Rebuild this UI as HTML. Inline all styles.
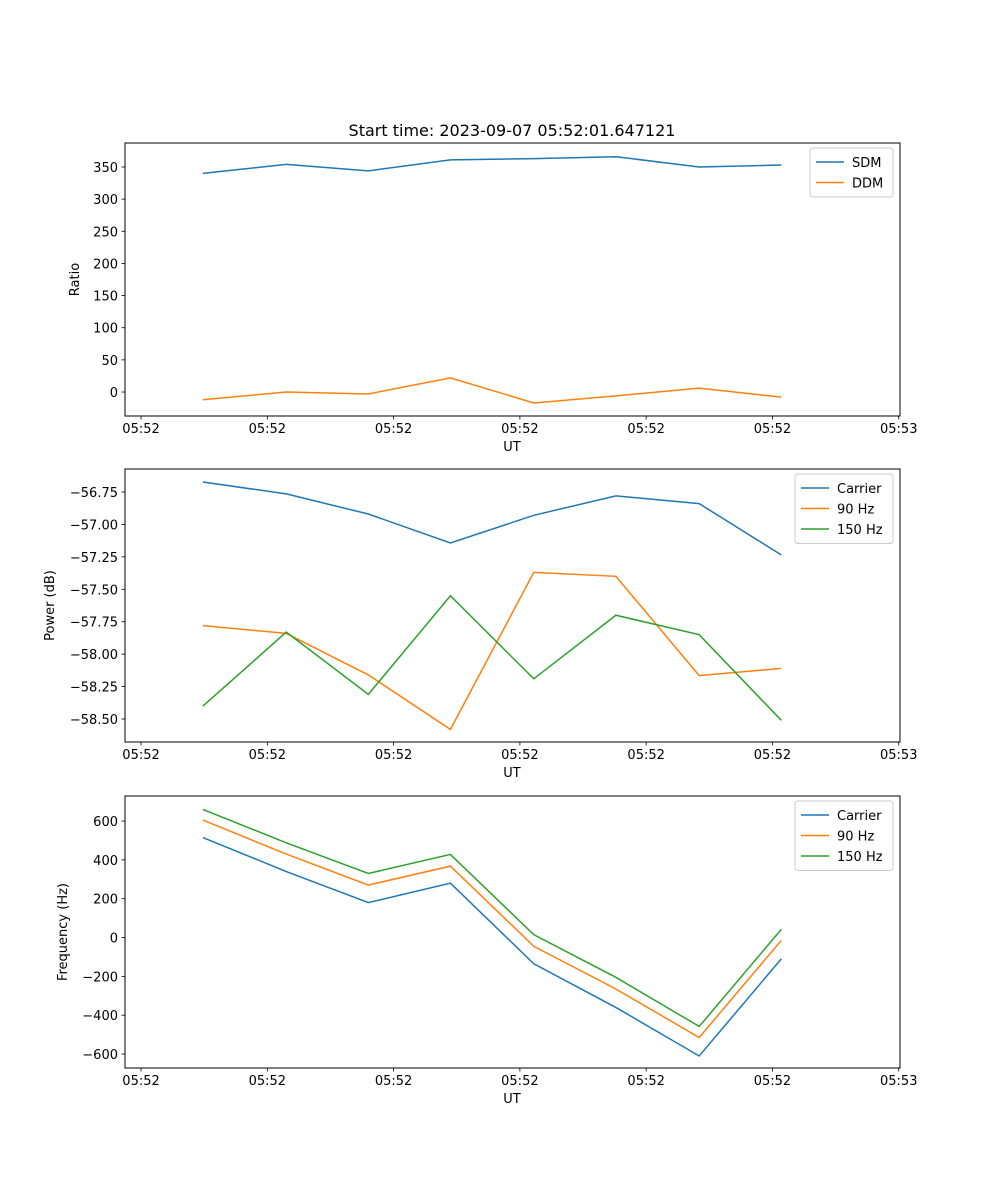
<!DOCTYPE html>
<html><head><meta charset="utf-8"><style>
body{margin:0;background:#fff}
svg{display:block;font-family:"DejaVu Sans","Liberation Sans",sans-serif}
</style></head><body>
<svg id="fig" width="1000" height="1200" viewBox="0 0 1000 1200" xmlns="http://www.w3.org/2000/svg">
<rect width="1000" height="1200" fill="#fff"/>
<text x="512" y="136" font-size="16" text-anchor="middle">Start time: 2023-09-07 05:52:01.647121</text>
</svg>
<script>
const times = [4.9, 11.5, 18.0, 24.5, 31.1, 37.6, 44.2, 50.7];
const xTicks = [0, 10, 20, 30, 40, 50, 60];
const xTickLabels = ["05:52","05:52","05:52","05:52","05:52","05:52","05:53"];
const sdm = [340, 354, 344, 361, 363, 366, 350, 353];
const ddm = [-12, 0, -3, 22, -17, -6, 6, -8];
const powCarrier = [-56.673, -56.765, -56.92, -57.143, -56.93, -56.78, -56.84, -57.235];
const pow90 = [-57.78, -57.84, -58.16, -58.58, -57.37, -57.40, -58.165, -58.11];
const pow150 = [-58.40, -57.83, -58.31, -57.55, -58.19, -57.70, -57.85, -58.51];
const freqCarrier = [515, 340, 180, 280, -135, -360, -610, -110];
const freq90 = [605, 430, 270, 368, -45, -265, -515, -15];
const freq150 = [660, 488, 330, 428, 15, -205, -458, 42];
const ticks1 = [0,50,100,150,200,250,300,350];
const ticks2 = [-58.5,-58.25,-58,-57.75,-57.5,-57.25,-57,-56.75];
const ticks3 = [-600,-400,-200,0,200,400,600];

const NS="http://www.w3.org/2000/svg";
const svg=document.getElementById('fig');
function mk(tag,attrs,parent){const e=document.createElementNS(NS,tag);for(const k in attrs)e.setAttribute(k,attrs[k]);(parent||svg).appendChild(e);return e;}
const C=["#1f77b4","#ff7f0e","#2ca02c"];
const L=125,R=900,xmin=-1.27,xmax=60.1;
const FS=13;
const xs=v=>L+(v-xmin)/(xmax-xmin)*(R-L);

function panel(name,top,bot,ymin,ymax,yt,fmt,ylabel,ylabX,series,names,legend){
  const g=mk('g',{});
  
  
  const ys=v=>bot-(v-ymin)/(ymax-ymin)*(bot-top);
  xTicks.forEach((t,i)=>{
    const x=xs(t);
    mk('line',{x1:x,x2:x,y1:bot,y2:bot+3.5,stroke:'#000','stroke-width':0.8},g);
    const tx=mk('text',{x:x,y:bot+17,'font-size':FS,'text-anchor':'middle'},g);
    
    
    tx.textContent=xTickLabels[i];
  });
  yt.forEach(t=>{
    const y=ys(t);
    mk('line',{x1:L-3.5,x2:L,y1:y,y2:y,stroke:'#000','stroke-width':0.8},g);
    const tx=mk('text',{x:L-7,y:y+5,'font-size':FS,'text-anchor':'end'},g);
    
    
    tx.textContent=fmt(t);
  });
  series.forEach((s,i)=>{
    const p=mk('polyline',{points:s.map((v,j)=>xs(times[j])+','+ys(v)).join(' '),fill:'none',stroke:C[i],'stroke-width':1.5},g);
    
    
  });
  mk('rect',{x:L,y:top,width:R-L,height:bot-top,fill:'none',stroke:'#000','stroke-width':1,'shape-rendering':'crispEdges'},g);
  const xl=mk('text',{x:512,y:bot+35,'font-size':FS,'text-anchor':'middle'},g);
  
  
  xl.textContent='UT';
  const cy=(top+bot)/2;
  const yl=mk('text',{x:ylabX,y:cy,'font-size':FS,'text-anchor':'middle',transform:`rotate(-90 ${ylabX} ${cy})`},g);
  
  
  yl.textContent=ylabel;
  const lg=mk('g',{},g);
  
  
  mk('rect',{x:legend.x,y:top+5,width:R-7-legend.x,height:names.length*20.5+8,fill:'#fff',stroke:'#ccc',rx:3},lg);
  names.forEach((n,i)=>{
    const y=top+5+14+i*20.5;
    mk('line',{x1:legend.x+6,x2:legend.x+34,y1:y,y2:y,stroke:C[i],'stroke-width':1.5},lg);
    const t=mk('text',{x:legend.x+42,y:y+5,'font-size':FS},lg);
    
    
    t.textContent=n;
  });
}
panel('ratio',143,416,-37.3,387.3,ticks1,v=>String(v),'Ratio',79,[sdm,ddm],['SDM','DDM'],{x:810});
panel('power',469,742,-58.677,-56.573,ticks2,v=>v.toFixed(2).replace('-','−'),'Power (dB)',54,[powCarrier,pow90,pow150],['Carrier','90 Hz','150 Hz'],{x:795});
panel('frequency',796,1068,-672,729,ticks3,v=>String(v).replace('-','−'),'Frequency (Hz)',67,[freqCarrier,freq90,freq150],['Carrier','90 Hz','150 Hz'],{x:795});
</script>
</body></html>
